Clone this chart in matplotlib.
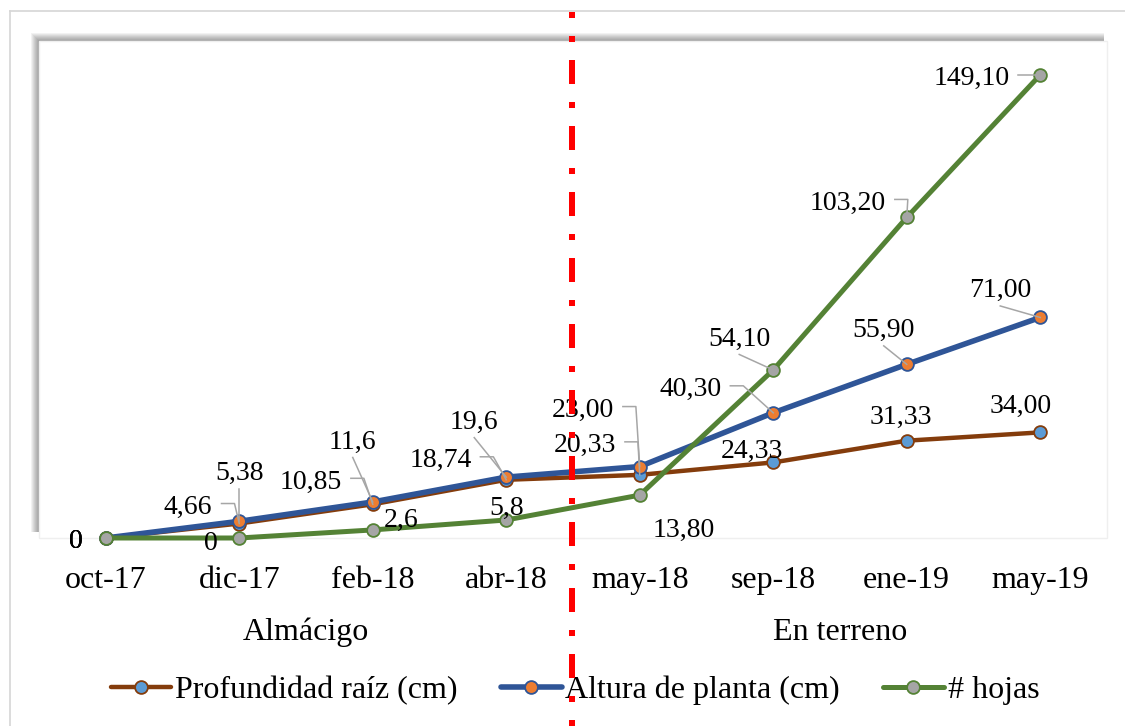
import numpy as np
import matplotlib
matplotlib.use('Agg')
import matplotlib.pyplot as plt
from matplotlib.patches import Rectangle
from matplotlib.lines import Line2D
import matplotlib.transforms as mtransforms

plt.rcParams['font.family'] = ['Liberation Serif', 'DejaVu Serif']

# ---------------- data ----------------
categories = ['oct-17', 'dic-17', 'feb-18', 'abr-18', 'may-18', 'sep-18', 'ene-19', 'may-19']
groups = ['Almácigo', 'En terreno']
group_members = [[0, 1, 2, 3], [4, 5, 6, 7]]
series_names = ['Profundidad raíz (cm)', 'Altura de planta (cm)', '# hojas']
profundidad = [0, 4.66, 10.85, 18.74, 20.33, 24.33, 31.33, 34.00]
altura = [0, 5.38, 11.6, 19.6, 23.00, 40.30, 55.90, 71.00]
hojas = [0, 0, 2.6, 5.8, 13.80, 54.10, 103.20, 149.10]
labels_prof = ['0', '4,66', '10,85', '18,74', '20,33', '24,33', '31,33', '34,00']
labels_alt = ['0', '5,38', '11,6', '19,6', '23,00', '40,30', '55,90', '71,00']
labels_hoj = ['0', '0', '2,6', '5,8', '13,80', '54,10', '103,20', '149,10']

# label layout: (dx, dy) in pixels (dy positive = downwards), leader style
layout_prof = [(-30, 0, None), (-51, -19, 'arm'), (-62, -25, 'arm'), (-66, -22, 'arm'),
               (-55, -32, 'arm'), (-21, -14, None), (-6, -26, None), (-20, -29, None)]
layout_alt = [(-30, 0, None), (0, -51, 'down'), (-20, -63, 'down'), (-32, -58, 'down'),
              (-57, -59, 'arm'), (-83, -26, 'arm'), (-23, -37, 'down'), (-40, -30, 'down')]
layout_hoj = [(-30, 0, None), (-28, 2, None), (28, -13, None), (0, -15, None),
              (44, 32, None), (-34, -34, 'down'), (-59, -17, 'arm'), (-69, 1, 'arm')]

# ---------------- figure ----------------
W, H = 1125, 726
fig = plt.figure(figsize=(W / 100, H / 100), dpi=100)


def fx(x):
    return x / W


def fy(y):
    return 1 - y / H


L, R, T, B = 39, 1107, 41, 538
ax = fig.add_axes([fx(L), fy(B), fx(R) - fx(L), fy(T) - fy(B)])
ax.set_facecolor('white')
for s in ax.spines.values():
    s.set_visible(False)
ax.patch.set_edgecolor('#EFEFEF')
ax.patch.set_linewidth(1.0)

# outer chart frame (left & top visible)
fig.add_artist(Line2D([fx(10), fx(10)], [fy(11), fy(H + 5)], color='#D6D6D6', lw=1.2,
                      transform=fig.transFigure, zorder=-2))
fig.add_artist(Line2D([fx(10), fx(W + 5)], [fy(11), fy(11)], color='#D6D6D6', lw=1.2,
                      transform=fig.transFigure, zorder=-2))

# plot-area shadow (top-left)
for i in range(9):
    x0, y0 = L - i, T - i
    x1, y1 = R - 3, B - 6
    fig.add_artist(Rectangle((fx(x0), fy(y1)), fx(x1) - fx(x0), fy(y0) - fy(y1),
                             transform=fig.transFigure, facecolor='black', alpha=0.05,
                             edgecolor='none', zorder=-1))

x = np.arange(len(categories))
ax.set_xlim(-0.5, len(categories) - 0.5)
ax.set_ylim(0, 160)

styles = [
    dict(color='#843C0C', lw=3.2, mfc='#5B9BD5', mec='#843C0C'),
    dict(color='#2F5597', lw=4.0, mfc='#ED7D31', mec='#2F5597'),
    dict(color='#548235', lw=3.6, mfc='#A5A5A5', mec='#548235'),
]
all_vals = [profundidad, altura, hojas]
all_labels = [labels_prof, labels_alt, labels_hoj]
all_layout = [layout_prof, layout_alt, layout_hoj]

handles = []
for k, (vals, st) in enumerate(zip(all_vals, styles)):
    ln, = ax.plot(x, vals, color=st['color'], lw=st['lw'], marker='o', ms=9.2,
                  mfc=st['mfc'], mec=st['mec'], mew=1.3, clip_on=False,
                  solid_capstyle='round', zorder=2 + k * 0.1, label=series_names[k])
    handles.append(ln)

lbl_size = 20
leader_col = '#A6A6A6'
texts = []
for vals, labs, lay in zip(all_vals, all_labels, all_layout):
    for i, (v, t, (dx, dy, style)) in enumerate(zip(vals, labs, lay)):
        an = ax.annotate(t, xy=(x[i], v), xytext=(dx, -(dy + 3)), textcoords='offset pixels',
                         ha='center', va='center', fontsize=lbl_size, color='black',
                         annotation_clip=False, zorder=5)
        texts.append((an, x[i], v, style))

# category axis
ax.set_yticks([])
ax.set_xticks(x)
ax.set_xticklabels(categories, fontsize=23)
ax.tick_params(axis='x', length=0, pad=20)

# group labels
btrans = mtransforms.blended_transform_factory(ax.transData, fig.transFigure)
for g, mem in zip(groups, group_members):
    ax.text(np.mean([x[m] for m in mem]), fy(640), g, transform=btrans, ha='center',
            va='baseline', fontsize=23, clip_on=False)

# legend
fig.legend(handles=handles, labels=series_names, loc='center',
           bbox_to_anchor=(fx(575), fy(690)), ncol=3, frameon=False, fontsize=23,
           handlelength=1.9, handletextpad=0.12, columnspacing=1.35, borderpad=0)

# leader lines (computed from rendered text extents)
fig.canvas.draw()
renderer = fig.canvas.get_renderer()
ident = mtransforms.IdentityTransform()
for an, xi, v, style in texts:
    if style is None:
        continue
    bb = an.get_window_extent(renderer)
    px, py = ax.transData.transform((xi, v))
    if style == 'arm':
        yc = 0.5 * (bb.y0 + bb.y1) + 4
        xs = [bb.x1 + 9, bb.x1 + 22, px]
        ys = [yc, yc, py]
    else:
        xs = [0.5 * (bb.x0 + bb.x1), px]
        ys = [bb.y0 - 3, py]
    ax.add_line(Line2D(xs, ys, transform=ident, color=leader_col, lw=1.1,
                       clip_on=False, zorder=4))

# red dash-dot separator
fig.add_artist(Line2D([fx(572), fx(572)], [fy(12), fy(H)], color='#FF0000', lw=4.32,
                      linestyle=(3, (4, 3, 1, 3)), transform=fig.transFigure, zorder=10))

fig.savefig('out.png', dpi=100, facecolor='white')
